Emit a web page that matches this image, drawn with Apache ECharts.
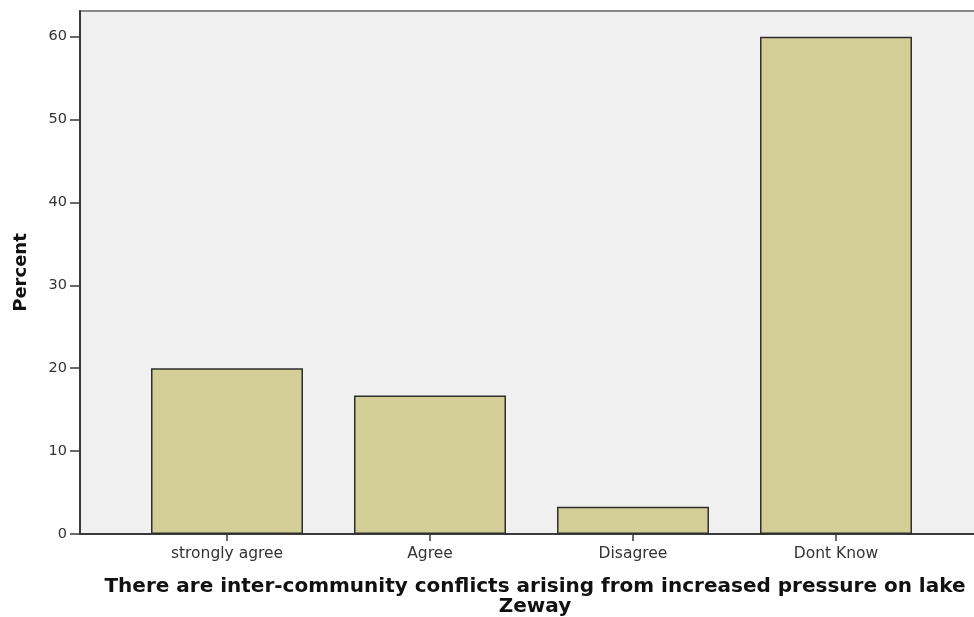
<!DOCTYPE html>
<html>
<head>
<meta charset="utf-8">
<script src="https://cdn.jsdelivr.net/npm/echarts@6/dist/echarts.min.js"></script>
<style>html,body{margin:0;padding:0;background:#fff;}#c{width:974px;height:617px;}</style>
</head>
<body>
<div id="c"></div>
<script>
var categories = ['strongly agree', 'Agree', 'Disagree', 'Dont Know'];
var percentValues = [20, 16.7, 3.3, 60];
var yTicks = [0, 10, 20, 30, 40, 50, 60];
var xTitle = 'There are inter-community conflicts arising from increased pressure on lake\nZeway';
var yTitle = 'Percent';

var chart = echarts.init(document.getElementById('c'));
var font = '"DejaVu Sans", Verdana, sans-serif';
var yMax = 63.1;
chart.setOption({
  animation: false,
  backgroundColor: '#ffffff',
  grid: [
    {left: 80, top: 11, width: 910, bottom: 83, outerBoundsMode: 'none', containLabel: false, show: true, backgroundColor: '#f0f0f0', borderColor: '#8a8a8a', borderWidth: 2},
    {left: 125.5, width: 812, top: 11, bottom: 83, outerBoundsMode: 'none', containLabel: false}
  ],
  xAxis: [
    {gridIndex: 0, type: 'value', min: 0, max: 1,
     axisLine: {show: true, onZero: false, lineStyle: {color: '#3a3a3a', width: 2}},
     axisTick: {show: false}, axisLabel: {show: false}, splitLine: {show: false},
     name: xTitle, nameLocation: 'middle', nameGap: 43,
     nameTextStyle: {fontFamily: font, fontWeight: 'bold', fontSize: 20, color: '#111', lineHeight: 20}},
    {gridIndex: 1, type: 'category', data: categories,
     axisLine: {show: false}, axisTick: {show: true, alignWithLabel: true, length: 7, lineStyle: {color: '#3a3a3a', width: 1.5}},
     axisLabel: {fontFamily: font, fontSize: 15.5, color: '#333', margin: 12}}
  ],
  yAxis: [
    {gridIndex: 0, type: 'value', min: 0, max: yMax, interval: 10,
     axisLine: {show: true, lineStyle: {color: '#3a3a3a', width: 2}},
     axisTick: {show: true, length: 10, customValues: yTicks, lineStyle: {color: '#3a3a3a', width: 1.5}},
     axisLabel: {fontFamily: font, fontSize: 14.5, color: '#333', margin: 13, customValues: yTicks},
     splitLine: {show: false},
     name: yTitle, nameLocation: 'middle', nameGap: 50, nameRotate: 90,
     nameTextStyle: {fontFamily: font, fontWeight: 'bold', fontSize: 18, color: '#111'}},
    {gridIndex: 1, type: 'value', min: 0, max: yMax, interval: 10, show: false}
  ],
  series: [{
    type: 'bar', xAxisIndex: 1, yAxisIndex: 1, data: percentValues, barWidth: 152,
    itemStyle: {color: '#d3cd96', borderColor: '#2e2e2e', borderWidth: 1.5}
  }]
});
</script>
</body>
</html>
